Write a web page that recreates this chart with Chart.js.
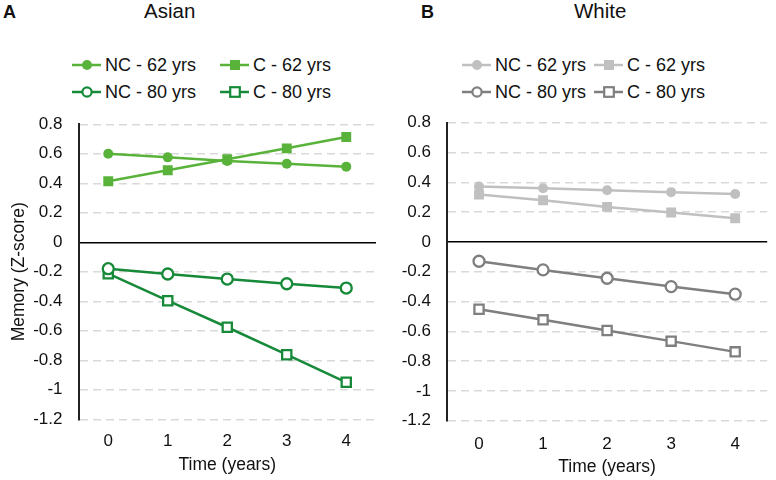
<!DOCTYPE html>
<html><head><meta charset="utf-8">
<script src="https://cdn.jsdelivr.net/npm/chart.js@4/dist/chart.umd.min.js"></script>
<style>
html,body{margin:0;padding:0;background:#fff;}
body{width:776px;height:480px;position:relative;overflow:hidden;font-family:"Liberation Sans",Arial,sans-serif;color:#111;}
canvas{position:absolute;top:0;}
.lbl{position:absolute;font-weight:bold;font-size:18px;line-height:20px;}
.ttl{position:absolute;font-size:20.5px;line-height:24px;}
.leg{position:absolute;font-size:18px;line-height:20px;height:20px;white-space:nowrap;display:flex;align-items:center;}
.leg svg{display:block;margin-right:4px;}
</style></head>
<body>
<div class="lbl" style="left:3px;top:2px;">A</div>
<div class="ttl" style="left:144px;top:-1px;">Asian</div>
<div class="lbl" style="left:421px;top:2px;">B</div>
<div class="ttl" style="left:574px;top:-1px;">White</div>
<div id="legA"></div>
<div id="legB"></div>
<canvas id="cA" width="390" height="480" style="left:0;"></canvas>
<canvas id="cB" width="386" height="480" style="left:390px;"></canvas>
<script>
// ---- data ----
const years = ['0', '1', '2', '3', '4'];
const seriesNames = ['NC - 62 yrs', 'C - 62 yrs', 'NC - 80 yrs', 'C - 80 yrs'];
const yMin = -1.2, yMax = 0.8, yStep = 0.2;

const asianNC62 = [0.60, 0.576, 0.551, 0.533, 0.513];
const asianC62  = [0.414, 0.488, 0.563, 0.637, 0.714];
const asianNC80 = [-0.179, -0.215, -0.249, -0.281, -0.310];
const asianC80  = [-0.213, -0.396, -0.576, -0.762, -0.949];

const whiteNC62 = [0.372, 0.360, 0.347, 0.334, 0.322];
const whiteC62  = [0.318, 0.280, 0.235, 0.197, 0.159];
const whiteNC80 = [-0.130, -0.188, -0.244, -0.300, -0.351];
const whiteC80  = [-0.452, -0.523, -0.595, -0.666, -0.738];

// ---- styles ----
const FONT = '"Liberation Sans", Arial, sans-serif';
const greenLight = '#59B33A', greenDark = '#178A3A';
const greyLight = '#C0C0C0', greyDark = '#7F7F7F';
const shapes = [
  {style: 'circle', open: false},
  {style: 'rect', open: false},
  {style: 'circle', open: true},
  {style: 'rect', open: true}
];

function ds(label, data, color, shape) {
  const isRect = shape.style === 'rect';
  return {
    label, data,
    borderColor: color, borderWidth: 2.5,
    pointStyle: shape.style,
    pointRadius: isRect ? (shape.open ? 6.5 : 7) : (shape.open ? 5.5 : 5),
    pointBorderWidth: shape.open ? 2.3 : 0,
    pointBackgroundColor: shape.open ? '#fff' : color,
    pointBorderColor: color,
    tension: 0, fill: false
  };
}

function makeChart(id, series, colors, o) {
  return new Chart(document.getElementById(id), {
    type: 'line',
    data: {
      labels: years,
      datasets: series.map((d, i) => ds(seriesNames[i], d, colors[i], shapes[i]))
    },
    options: {
      responsive: false, animation: false, devicePixelRatio: 1,
      layout: {padding: {top: o.top, right: o.right, bottom: 0, left: 0}},
      plugins: {legend: {display: false}, tooltip: {enabled: false}},
      scales: {
        x: {
          offset: true,
          grid: {display: false, drawTicks: false},
          border: {display: false},
          ticks: {padding: o.xpad, color: '#111', font: {size: 17, family: FONT}},
          title: {display: true, text: 'Time (years)', color: '#111',
                  font: {size: 17.5, family: FONT}, padding: {top: 4, bottom: o.xtb}},
          afterFit: s => { s.height = o.xh; }
        },
        y: {
          min: yMin, max: yMax,
          ticks: {
            stepSize: yStep, padding: 16, color: '#111', font: {size: 17, family: FONT},
            callback: v => String(Math.round(v * 10) / 10)
          },
          grid: {
            drawTicks: false,
            color: c => (c.tick && Math.abs(c.tick.value) < 1e-9) ? '#000' : '#D9D9D9',
            lineWidth: c => (c.tick && Math.abs(c.tick.value) < 1e-9) ? 1.6 : 1.4
          },
          border: {
            color: '#222', width: 2,
            dash: c => (c.tick && Math.abs(c.tick.value) < 1e-9) ? [] : [8, 5]
          },
          title: {display: o.ytitle, text: 'Memory (Z-score)', color: '#111',
                  font: {size: 17.5, family: FONT}, padding: {top: 9, bottom: 4}},
          afterFit: s => { s.width = o.yw; }
        }
      }
    }
  });
}

function legendMarker(color, shape) {
  let m;
  if (shape.style === 'circle') {
    m = shape.open
      ? `<circle cx="15" cy="8" r="4.6" fill="#fff" stroke="${color}" stroke-width="2.2"/>`
      : `<circle cx="15" cy="8" r="5" fill="${color}"/>`;
  } else {
    m = shape.open
      ? `<rect x="10.2" y="3.2" width="9.6" height="9.6" fill="#fff" stroke="${color}" stroke-width="2.2"/>`
      : `<rect x="10" y="3" width="10" height="10" fill="${color}"/>`;
  }
  return `<svg width="29" height="16"><line x1="0" y1="8" x2="29" y2="8" stroke="${color}" stroke-width="2.5"/>${m}</svg>`;
}

function makeLegend(id, colors, xs, ys) {
  const el = document.getElementById(id);
  let html = '';
  seriesNames.forEach((n, i) => {
    html += `<div class="leg" style="left:${xs[i % 2]}px;top:${ys[Math.floor(i / 2)]}px;">${legendMarker(colors[i], shapes[i])}<span>${n}</span></div>`;
  });
  el.innerHTML = html;
}

const colA = [greenLight, greenLight, greenDark, greenDark];
const colB = [greyLight, greyLight, greyDark, greyDark];

makeLegend('legA', colA, [72, 220], [55, 82]);
makeLegend('legB', colB, [462, 594], [55, 82]);

makeChart('cA', [asianNC62, asianC62, asianNC80, asianC80], colA,
  {top: 124.3, right: 14, xh: 60.7, yw: 78.5, ytitle: true, xpad: 12, xtb: 4});
makeChart('cB', [whiteNC62, whiteC62, whiteNC80, whiteC80], colB,
  {top: 122.7, right: 0, xh: 59.3, yw: 57, ytitle: false, xpad: 13, xtb: 2});
</script>
</body></html>
